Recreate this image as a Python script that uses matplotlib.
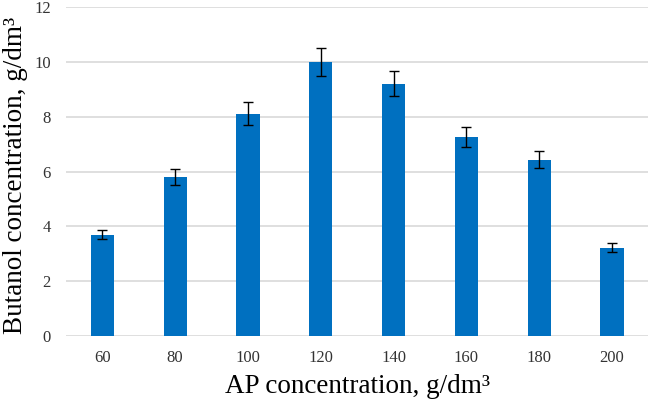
import matplotlib
matplotlib.use('Agg')
import matplotlib.pyplot as plt
import numpy as np

plt.rcParams['font.family'] = ['Liberation Serif', 'DejaVu Serif']

ap_conc = ['60', '80', '100', '120', '140', '160', '180', '200']
butanol = [3.7, 5.8, 8.1, 10.0, 9.2, 7.25, 6.43, 3.22]
errors = [0.17, 0.3, 0.42, 0.5, 0.46, 0.36, 0.31, 0.17]

fig = plt.figure(figsize=(6.5, 4.07), dpi=100)
ax = fig.add_axes([0.1015, 0.1744, 0.896, 0.8084])

x = np.arange(len(ap_conc))
ax.bar(x, butanol, width=0.32, color='#0070c0', zorder=3,
       yerr=errors, error_kw=dict(ecolor='black', elinewidth=1.0, capsize=3.5, capthick=1.0, zorder=4))

ax.set_ylim(0, 12)
ax.set_xlim(-0.5, len(ap_conc) - 0.5)
ax.set_yticks(range(0, 13, 2))
ax.set_xticks(x)
ax.set_xticklabels(ap_conc)
ax.yaxis.grid(True, color='#d9d9d9', linewidth=1.2, zorder=0)
ax.set_axisbelow(True)
for s in ax.spines.values():
    s.set_visible(False)
ax.tick_params(axis='both', length=0, labelsize=12, colors='#333333')
ax.tick_params(axis='x', pad=10)
ax.tick_params(axis='y', pad=11)

ax.set_xlabel('AP concentration, g/dm³', fontsize=19.5, labelpad=6)
fig.text(0.024, 0.57, 'Butanol concentration, g/dm³', fontsize=19.5,
         rotation=90, ha='center', va='center')

fig.savefig('out.png', dpi=100)
